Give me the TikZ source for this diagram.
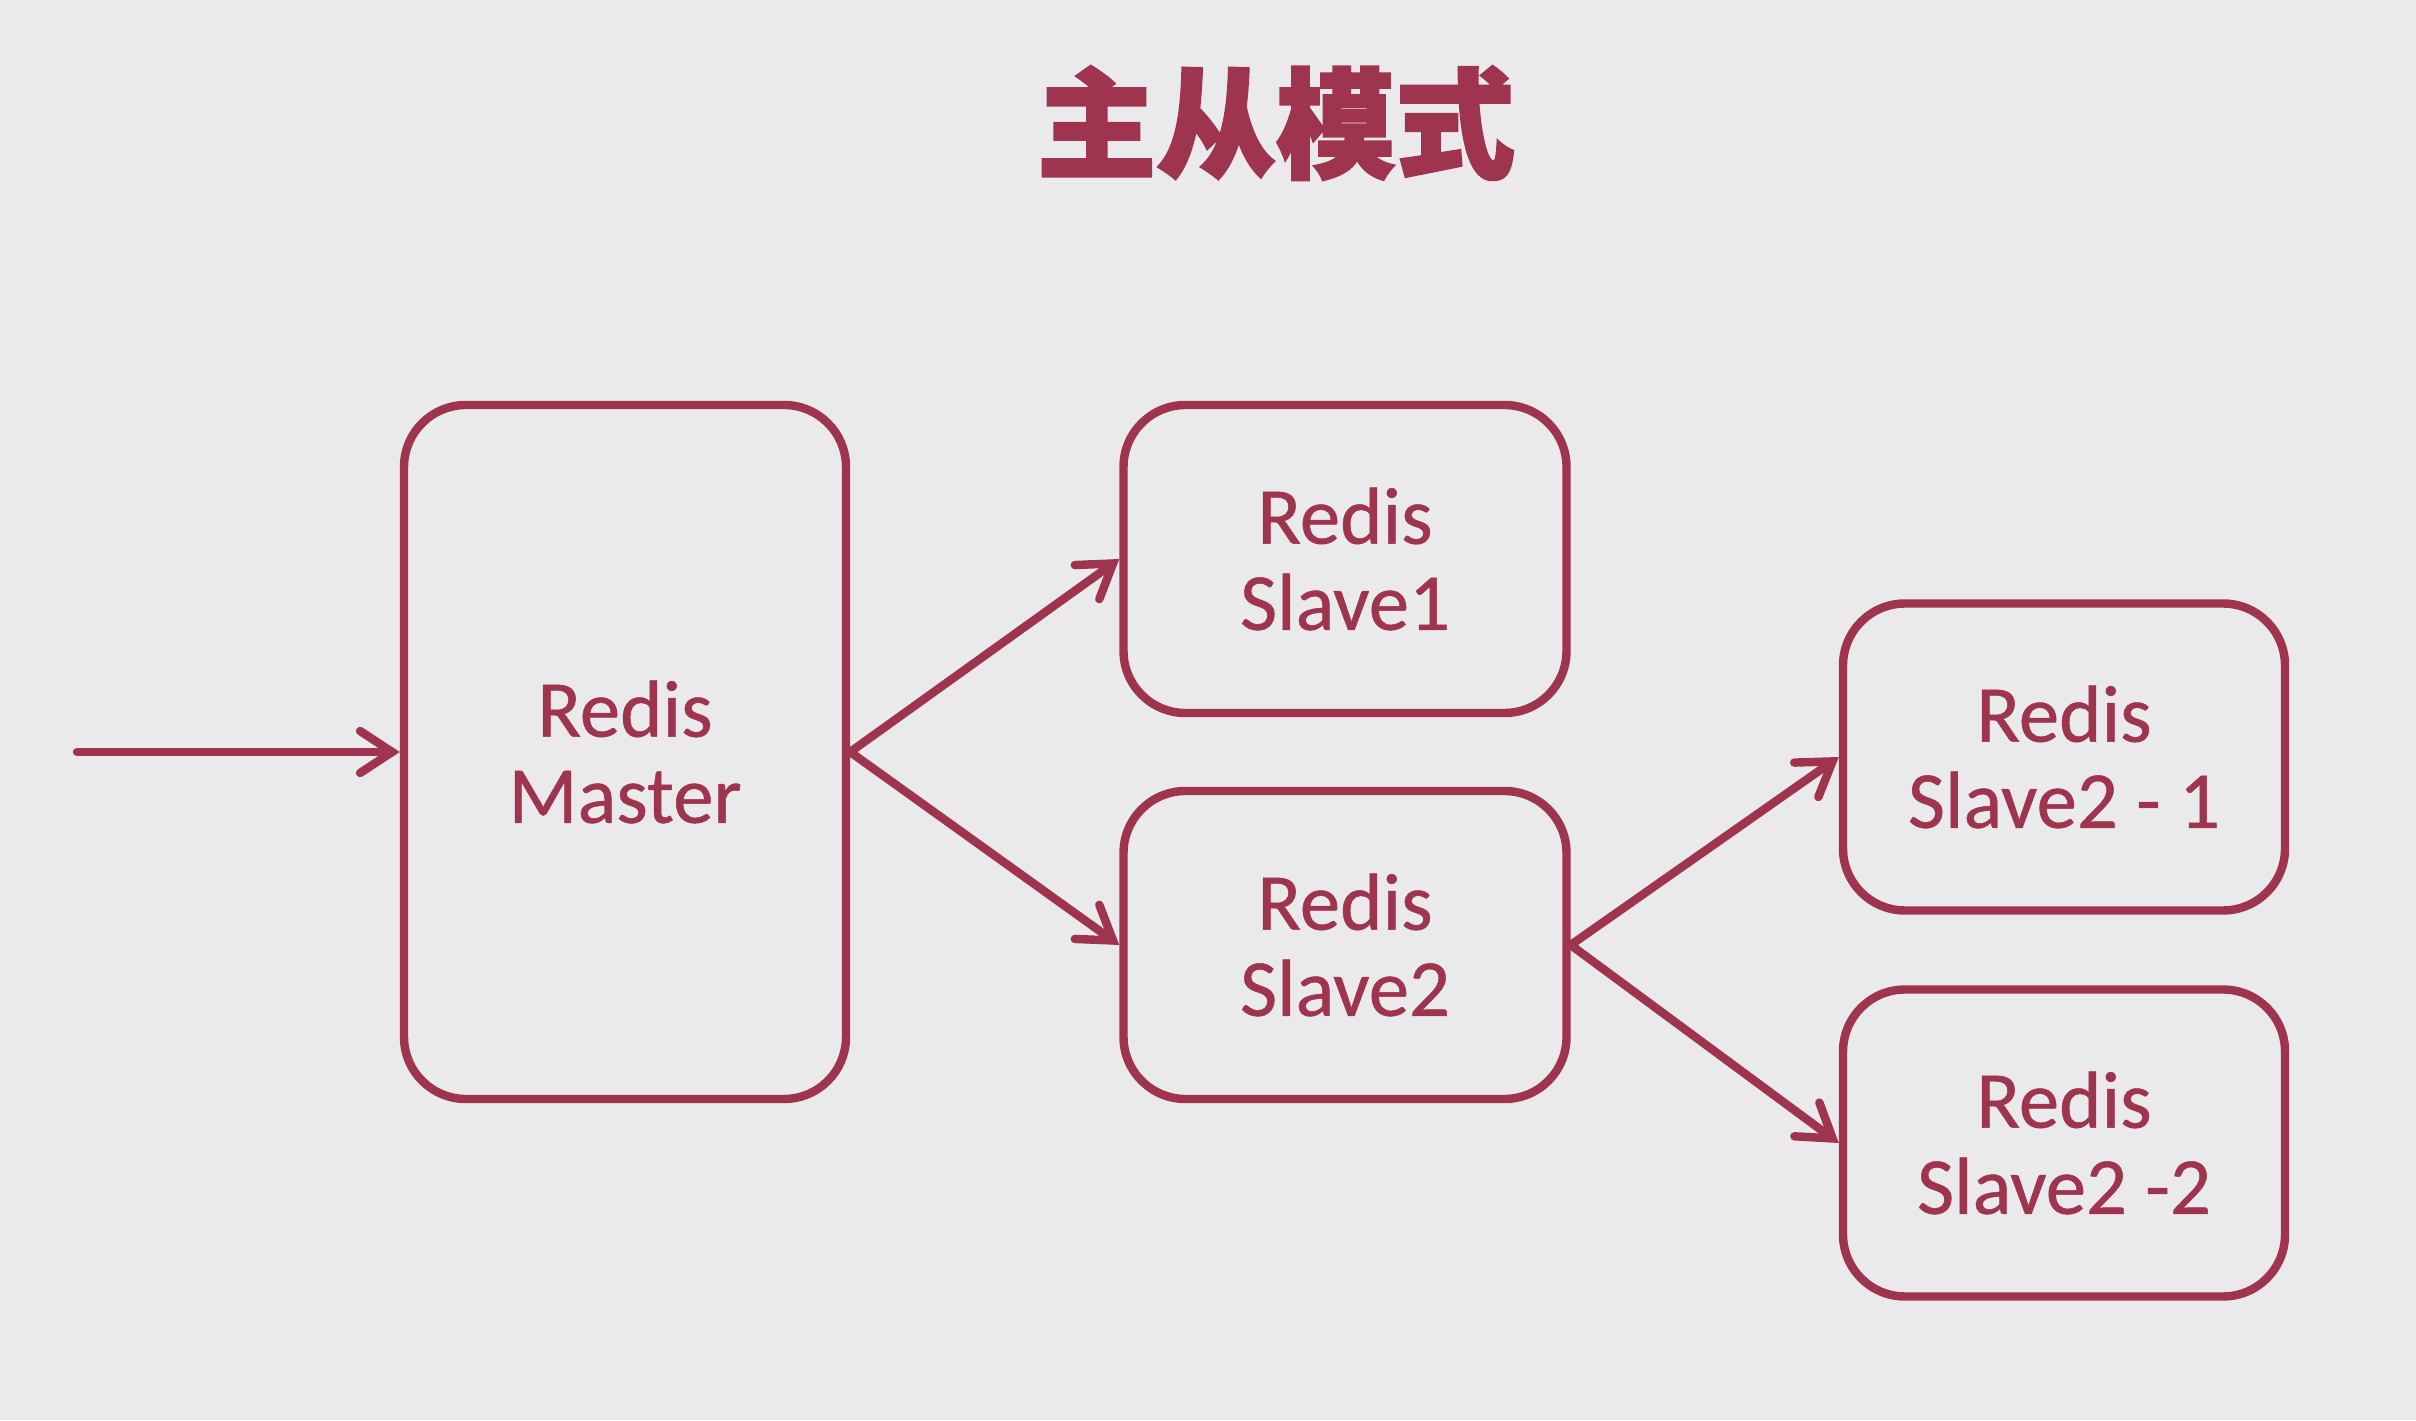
\documentclass[tikz,border=0pt]{standalone}
\usepackage{fontspec}
\setmainfont{Carlito}[FakeBold=0.6]
\newfontfamily\cjk[FakeBold=2]{Noto Sans CJK SC}
\usetikzlibrary{arrows.meta}
\definecolor{redis}{RGB}{158,52,78}
\definecolor{slide}{RGB}{234,233,236}

\tikzset{
  server/.style={draw=redis, line width=2.4pt, rounded corners=6.2mm, text=redis,
    align=center, font=\fontsize{23}{24.5}\selectfont},
  arrow/.style={draw=redis, line width=2.4pt, line cap=round,
    -{Straight Barb[length=3.2mm,width=4.2mm,line cap=round]}}}

\begin{document}
\begin{tikzpicture}
    \fill[slide] (0,0) rectangle (24.16,14.2);
    \useasboundingbox (0,0) rectangle (24.16,14.2);
    \node[text=redis, font=\cjk\bfseries\fontsize{34}{34}\selectfont] (title) at (12.76,12.97) {主从模式};
    \node[server, minimum width=4.42cm, minimum height=6.94cm] (master) at (6.25,6.68) {Redis\\Master};
    \node[server, minimum width=4.43cm, minimum height=3.08cm] (slave1) at (13.45,8.61) {Redis\\Slave1};
    \node[server, minimum width=4.43cm, minimum height=3.08cm] (slave2) at (13.45,4.75) {Redis\\Slave2};
    \node[server, minimum width=4.42cm, minimum height=3.07cm] (slave21) at (20.64,6.63) {Redis\\Slave2 - 1};
    \node[server, minimum width=4.42cm, minimum height=3.07cm] (slave22) at (20.64,2.77) {Redis\\Slave2 -2};
    \coordinate (client) at (0.77,6.68);
    \draw[arrow] (client) -- (master.west);
    \draw[arrow] (master.east) -- (slave1.west);
    \draw[arrow] (master.east) -- (slave2.west);
    \draw[arrow] (slave2.east) -- (slave21.west);
    \draw[arrow] (slave2.east) -- (slave22.west);
\end{tikzpicture}
\end{document}
